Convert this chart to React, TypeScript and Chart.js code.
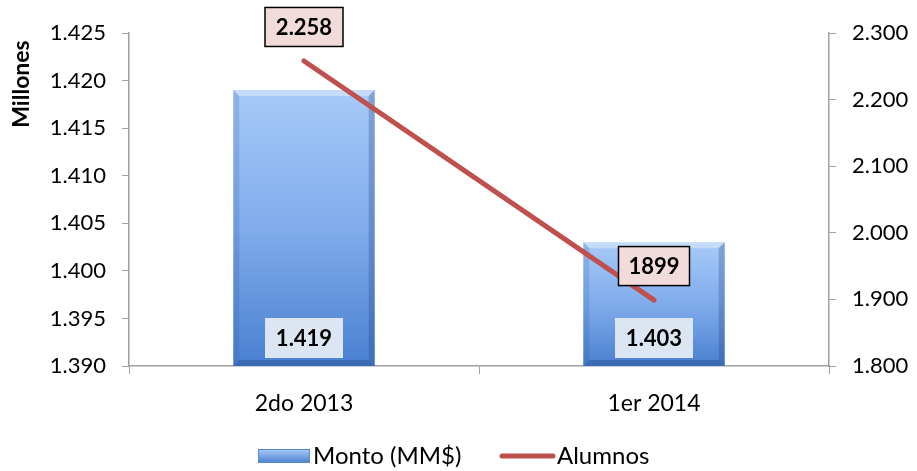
import React, { useEffect, useRef } from "react";
import { Chart, registerables } from "chart.js";

Chart.register(...registerables);

const categories = ["2do 2013", "1er 2014"];
const montoValues = [1.419, 1.403];
const montoLabels = ["1.419", "1.403"];
const alumnosValues = [2258, 1899];
const alumnosLabels = ["2.258", "1899"];
const leftTickLabels = ["1.390", "1.395", "1.400", "1.405", "1.410", "1.415", "1.420", "1.425"];
const rightTickLabels = ["1.800", "1.900", "2.000", "2.100", "2.200", "2.300"];
const legendLabels = ["Monto (MM$)", "Alumnos"];
const axisTitle = "Millones";

const FONT = "Lato, 'Open Sans', sans-serif";
const AXIS_COLOR = "#a0a0a0";
const LINE_COLOR = "#c0504d";

function drawBox(ctx: CanvasRenderingContext2D, text: string, cx: number, cy: number, w: number, h: number, fill: string, stroke: string | null) {
  ctx.save();
  ctx.fillStyle = fill;
  ctx.fillRect(cx - w / 2, cy - h / 2, w, h);
  if (stroke) {
    ctx.strokeStyle = stroke;
    ctx.lineWidth = 1.5;
    ctx.strokeRect(cx - w / 2, cy - h / 2, w, h);
  }
  ctx.fillStyle = "#000";
  ctx.font = `bold 22px ${FONT}`;
  ctx.textAlign = "center";
  ctx.textBaseline = "middle";
  ctx.fillText(text, cx, cy + 1);
  ctx.restore();
}

const bevelPlugin = {
  id: "bevelPlugin",
  afterDatasetDraw(chart: any, args: any) {
    if (args.index !== 1) return;
    const ctx = chart.ctx as CanvasRenderingContext2D;
    const bottom = chart.chartArea.bottom;
    args.meta.data.forEach((el: any) => {
      const left = el.x - el.width / 2;
      const right = el.x + el.width / 2;
      const top = el.y;
      const b = 6;
      ctx.save();
      // top bevel (light)
      ctx.fillStyle = "rgba(255,255,255,0.35)";
      ctx.beginPath();
      ctx.moveTo(left, top);
      ctx.lineTo(right, top);
      ctx.lineTo(right - b, top + b);
      ctx.lineTo(left + b, top + b);
      ctx.closePath();
      ctx.fill();
      // left bevel
      ctx.fillStyle = "rgba(40,80,150,0.18)";
      ctx.beginPath();
      ctx.moveTo(left, top);
      ctx.lineTo(left + b, top + b);
      ctx.lineTo(left + b, bottom - b);
      ctx.lineTo(left, bottom);
      ctx.closePath();
      ctx.fill();
      // right bevel
      ctx.fillStyle = "rgba(30,60,130,0.28)";
      ctx.beginPath();
      ctx.moveTo(right, top);
      ctx.lineTo(right - b, top + b);
      ctx.lineTo(right - b, bottom - b);
      ctx.lineTo(right, bottom);
      ctx.closePath();
      ctx.fill();
      // bottom bevel
      ctx.fillStyle = "rgba(20,50,120,0.3)";
      ctx.beginPath();
      ctx.moveTo(left, bottom);
      ctx.lineTo(left + b, bottom - b);
      ctx.lineTo(right - b, bottom - b);
      ctx.lineTo(right, bottom);
      ctx.closePath();
      ctx.fill();
      ctx.restore();
    });
  },
};

const labelPlugin = {
  id: "labelPlugin",
  afterDatasetsDraw(chart: any) {
    const ctx = chart.ctx as CanvasRenderingContext2D;
    const bottom = chart.chartArea.bottom;
    const barMeta = chart.getDatasetMeta(1);
    barMeta.data.forEach((el: any, i: number) => {
      drawBox(ctx, montoLabels[i], el.x, bottom - 28, 78, 40, "#dce6f2", null);
    });
    const lineMeta = chart.getDatasetMeta(0);
    lineMeta.data.forEach((el: any, i: number) => {
      drawBox(ctx, alumnosLabels[i], el.x, el.y - 34, i === 0 ? 78 : 71, 39, "#f2dcdb", "#000");
    });
  },
  afterDraw(chart: any) {
    const ctx = chart.ctx as CanvasRenderingContext2D;
    // axis title
    ctx.save();
    ctx.translate(22, 84);
    ctx.rotate(-Math.PI / 2);
    ctx.font = `bold 23px ${FONT}`;
    ctx.fillStyle = "#000";
    ctx.textAlign = "center";
    ctx.textBaseline = "middle";
    ctx.fillText(axisTitle, 0, 0);
    ctx.restore();

    // legend
    ctx.save();
    const ly = 456;
    const g = ctx.createLinearGradient(0, ly - 7, 0, ly + 7);
    g.addColorStop(0, "#a9cdf8");
    g.addColorStop(1, "#4a80d0");
    ctx.fillStyle = g;
    ctx.fillRect(258, ly - 7, 52, 14);
    ctx.strokeStyle = "#5a88cc";
    ctx.lineWidth = 1;
    ctx.strokeRect(258.5, ly - 6.5, 51, 13);
    ctx.font = `24px ${FONT}`;
    ctx.fillStyle = "#000";
    ctx.textAlign = "left";
    ctx.textBaseline = "middle";
    ctx.fillText(legendLabels[0], 313, ly);
    ctx.strokeStyle = LINE_COLOR;
    ctx.lineWidth = 5;
    ctx.lineCap = "round";
    ctx.beginPath();
    ctx.moveTo(502, ly);
    ctx.lineTo(553, ly);
    ctx.stroke();
    ctx.fillText(legendLabels[1], 557, ly);
    ctx.restore();
  },
};

function barGradient(context: any) {
  const chart = context.chart;
  const y = chart.scales && chart.scales.y;
  if (!chart.chartArea || !y || context.dataIndex === undefined) return "#7aa9ea";
  const top = y.getPixelForValue(montoValues[context.dataIndex]);
  const bottom = y.getPixelForValue(y.min);
  const g = chart.ctx.createLinearGradient(0, top, 0, bottom);
  g.addColorStop(0, "#a7cbf8");
  g.addColorStop(0.5, "#80acec");
  g.addColorStop(1, "#4a80d0");
  return g;
}

export default function App() {
  const ref = useRef<HTMLCanvasElement | null>(null);
  useEffect(() => {
    if (!ref.current) return;
    const chart = new Chart(ref.current, {
      type: "bar",
      data: {
        labels: categories,
        datasets: [
          {
            type: "line",
            label: legendLabels[1],
            data: alumnosValues,
            yAxisID: "y1",
            borderColor: LINE_COLOR,
            borderWidth: 5,
            borderCapStyle: "round",
            pointRadius: 0,
            order: 0,
          } as any,
          {
            type: "bar",
            label: legendLabels[0],
            data: montoValues,
            yAxisID: "y",
            backgroundColor: barGradient,
            borderColor: "#6f9fe0",
            borderWidth: 0,
            barPercentage: 0.404,
            categoryPercentage: 1,
            order: 1,
          } as any,
        ],
      },
      options: {
        responsive: false,
        animation: false,
        layout: { padding: { top: 33, bottom: 0, left: 0, right: 0 } },
        plugins: { legend: { display: false }, tooltip: { enabled: false } },
        scales: {
          x: {
            grid: { display: true, drawOnChartArea: false, drawTicks: true, tickLength: 8, color: AXIS_COLOR, offset: true },
            border: { color: AXIS_COLOR, width: 1.5 },
            ticks: { font: { family: FONT, size: 23 }, color: "#000", padding: 16 },
            afterFit(scale: any) { scale.height = 105; },
          },
          y: {
            position: "left",
            min: 1.39,
            max: 1.425,
            grid: { drawOnChartArea: false, drawTicks: true, tickLength: 7, color: AXIS_COLOR },
            border: { color: AXIS_COLOR, width: 1.5 },
            ticks: {
              stepSize: 0.005,
              font: { family: FONT, size: 22 },
              color: "#000",
              padding: 16,
              callback: (_v: any, i: number) => leftTickLabels[i],
            },
            afterFit(scale: any) { scale.width = 129; },
          },
          y1: {
            position: "right",
            min: 1800,
            max: 2300,
            grid: { drawOnChartArea: false, drawTicks: true, tickLength: 7, color: AXIS_COLOR },
            border: { color: AXIS_COLOR, width: 1.5 },
            ticks: {
              stepSize: 100,
              font: { family: FONT, size: 22 },
              color: "#000",
              padding: 16,
              callback: (_v: any, i: number) => rightTickLabels[i],
            },
            afterFit(scale: any) { scale.width = 88; },
          },
        },
      } as any,
      plugins: [bevelPlugin, labelPlugin],
    });
    return () => chart.destroy();
  }, []);
  return (
    <div style={{ position: "fixed", left: 0, top: 0, width: 917, height: 471, background: "#fff" }}>
      <canvas ref={ref} width={917} height={471} style={{ width: 917, height: 471 }} />
    </div>
  );
}
